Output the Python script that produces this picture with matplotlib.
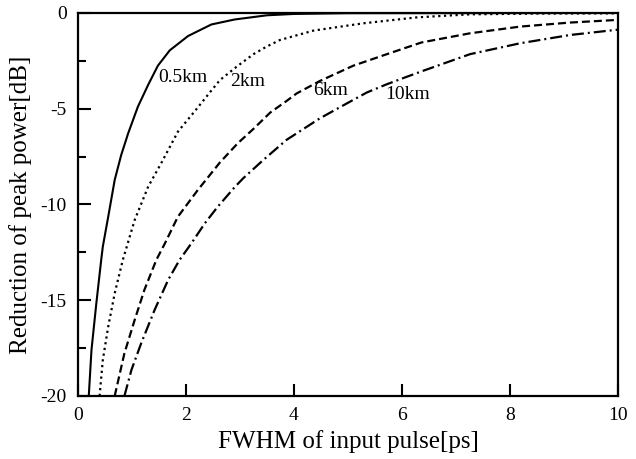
import numpy as np
import matplotlib
matplotlib.use('Agg')
import matplotlib.pyplot as plt
from matplotlib.ticker import MultipleLocator

# curves: (FWHM [ps], reduction [dB])
x_05 = [0.20, 0.25, 0.34, 0.43, 0.46, 0.56, 0.68, 0.80, 0.93, 1.11, 1.30, 1.48, 1.70,
        2.04, 2.47, 2.90, 3.5, 4.0, 5.0, 10.0]
y_05 = [-20.0, -17.6, -15.16, -12.9, -12.2, -10.64, -8.72, -7.42, -6.28, -4.89, -3.75, -2.75, -1.95,
        -1.2, -0.6, -0.34, -0.12, -0.05, -0.01, 0.0]

x_2 = [0.40, 0.46, 0.56, 0.68, 0.83, 1.05, 1.30, 1.54, 1.85, 2.20, 2.47, 2.63, 2.94,
       3.25, 3.49, 3.74, 4.36, 5.28, 6.27, 7.26, 8.5, 10.0]
y_2 = [-20.0, -18.12, -16.38, -14.64, -12.9, -10.81, -9.07, -7.85, -6.2, -5.0, -4.05, -3.5, -2.8,
       -2.15, -1.76, -1.41, -0.92, -0.54, -0.23, -0.07, -0.03, -0.02]

x_6 = [0.68, 0.86, 1.05, 1.23, 1.45, 1.61, 1.85, 2.22, 2.63, 2.96, 3.25, 3.56, 3.86,
       4.05, 4.48, 5.10, 5.41, 5.72, 6.36, 7.26, 8.19, 9.11, 10.0]
y_6 = [-20.0, -17.77, -16.03, -14.46, -12.9, -12.03, -10.64, -9.24, -7.8, -6.8, -6.05, -5.2, -4.6,
       -4.2, -3.55, -2.75, -2.45, -2.15, -1.54, -1.06, -0.71, -0.50, -0.36]

x_10 = [0.86, 0.99, 1.17, 1.42, 1.67, 1.88, 2.10, 2.35, 2.59, 2.90, 3.06, 3.43, 3.86,
        4.48, 4.98, 5.35, 5.72, 6.09, 6.36, 7.26, 8.19, 9.11, 10.0]
y_10 = [-20.0, -18.64, -17.25, -15.5, -13.94, -12.9, -12.03, -10.98, -10.11, -9.1, -8.63, -7.68, -6.63,
        -5.50, -4.72, -4.15, -3.72, -3.33, -3.05, -2.15, -1.58, -1.15, -0.87]

labels = ['0.5km', '2km', '6km', '10km']
label_pos = [(1.94, -3.37), (3.15, -3.59), (4.67, -4.07), (6.11, -4.28)]

plt.rcParams['font.family'] = ['Liberation Serif', 'DejaVu Serif']
plt.rcParams['axes.unicode_minus'] = False

fig = plt.figure(figsize=(6.36, 4.59), dpi=100)
ax = fig.add_axes([0.1226, 0.1373, 0.8491, 0.8344])

ax.plot(x_05, y_05, color='black', lw=1.5, ls='-')
ax.plot(x_2, y_2, color='black', lw=1.6, ls=(0, (1, 1.6)))
ax.plot(x_6, y_6, color='black', lw=1.6, ls=(0, (3.6, 1.8)))
ax.plot(x_10, y_10, color='black', lw=1.6, ls=(0, (5.4, 1.8, 0.9, 1.8)))

for lab, (lx, ly) in zip(labels, label_pos):
    ax.text(lx, ly, lab, fontsize=14, ha='center', va='center')

ax.set_xlim(0, 10)
ax.set_ylim(-20, 0)
ax.xaxis.set_major_locator(MultipleLocator(2))
ax.yaxis.set_major_locator(MultipleLocator(5))
ax.yaxis.set_minor_locator(MultipleLocator(2.5))
ax.tick_params(which='major', direction='in', length=9, width=1.5, labelsize=14, pad=8)
ax.tick_params(which='minor', direction='in', length=5.5, width=1.5)
for s in ax.spines.values():
    s.set_linewidth(1.6)

ax.set_xlabel('FWHM of input pulse[ps]', fontsize=18, labelpad=4)
ax.set_ylabel('Reduction of peak power[dB]', fontsize=18, labelpad=6)

fig.savefig('out.png', dpi=100)
